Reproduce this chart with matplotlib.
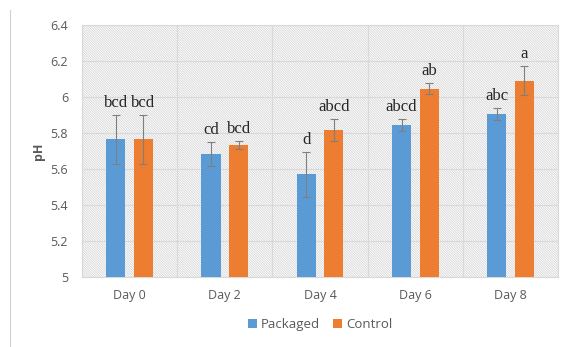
import matplotlib
matplotlib.use("Agg")
import numpy as np
import matplotlib.pyplot as plt
from matplotlib.patches import Rectangle
from matplotlib.lines import Line2D

BLUE = "#5B9BD5"; ORANGE = "#ED7D31"; GRID = "#D9D9D9"; TXT = "#595959"

days = ["Day 0", "Day 2", "Day 4", "Day 6", "Day 8"]
packaged = [5.765, 5.683, 5.57, 5.845, 5.905]
packaged_err = [0.135, 0.065, 0.125, 0.032, 0.035]
packaged_sig = ["bcd", "cd", "d", "abcd", "abc"]
control = [5.765, 5.733, 5.818, 6.047, 6.09]
control_err = [0.135, 0.02, 0.06, 0.03, 0.08]
control_sig = ["bcd", "bcd", "abcd", "ab", "a"]

plt.rcParams["font.family"] = ["Open Sans", "DejaVu Sans"]
plt.rcParams["hatch.linewidth"] = 0.5

fig = plt.figure(figsize=(5.69, 3.47), dpi=100)
fig.patch.set_facecolor("white")
ax = fig.add_axes([0.144, 0.202, 0.837, 0.726])

# hatched plot area
ax.patch.set_visible(False)
ax.add_patch(Rectangle((0, 0), 1, 1, transform=ax.transAxes, facecolor="white",
                       edgecolor="#CFCFCF", hatch="\\" * 14, lw=0, zorder=0))

x = np.arange(len(days))
w = 0.2; off = 0.145
err_kw = dict(ecolor="#7F7F7F", elinewidth=0.8, capsize=3, capthick=0.8)
ax.bar(x - off, packaged, w, yerr=packaged_err, color=BLUE,
       error_kw=err_kw, zorder=3, label="Packaged")
ax.bar(x + off, control, w, yerr=control_err, color=ORANGE,
       error_kw=err_kw, zorder=3, label="Control")

for xi, v, e, s in zip(x - off, packaged, packaged_err, packaged_sig):
    ax.annotate(s, (xi, v + e), xytext=(0, 3), textcoords="offset points",
                ha="center", va="bottom", fontsize=12, family="Liberation Serif", color="#262626")
for xi, v, e, s in zip(x + off, control, control_err, control_sig):
    ax.annotate(s, (xi, v + e), xytext=(0, 3), textcoords="offset points",
                ha="center", va="bottom", fontsize=12, family="Liberation Serif", color="#262626")

ax.set_ylim(5, 6.4)
ax.set_xlim(-0.5, len(days) - 0.5)
ax.set_yticks(np.arange(5, 6.41, 0.2))
ax.set_yticklabels(["5", "5.2", "5.4", "5.6", "5.8", "6", "6.2", "6.4"])
ax.set_xticks(x)
ax.set_xticklabels(days)
ax.set_xticks(np.arange(-0.5, len(days)), minor=True)
ax.grid(True, axis="y", color=GRID, lw=0.8, zorder=1)
ax.grid(True, axis="x", which="minor", color=GRID, lw=0.8, zorder=1)
ax.tick_params(axis="both", which="both", length=0, labelsize=9, colors=TXT)
ax.tick_params(axis="y", pad=10)
ax.tick_params(axis="x", pad=9)
for s in ax.spines.values():
    s.set_color(GRID); s.set_linewidth(0.8)
ax.set_ylabel("pH", fontsize=9, color=TXT, fontweight="bold", labelpad=4)

ax.legend(loc="center", bbox_to_anchor=(0.5, -0.19), ncol=2, frameon=False,
          fontsize=9.5, labelcolor=TXT, handlelength=0.7, handleheight=0.7,
          handletextpad=0.3, columnspacing=1.0)

fig.add_artist(Line2D([10 / 569, 10 / 569], [0, 1 - 10 / 347], color="#D0D0D0", lw=0.8))

fig.savefig("out.png", dpi=100, facecolor="white")
